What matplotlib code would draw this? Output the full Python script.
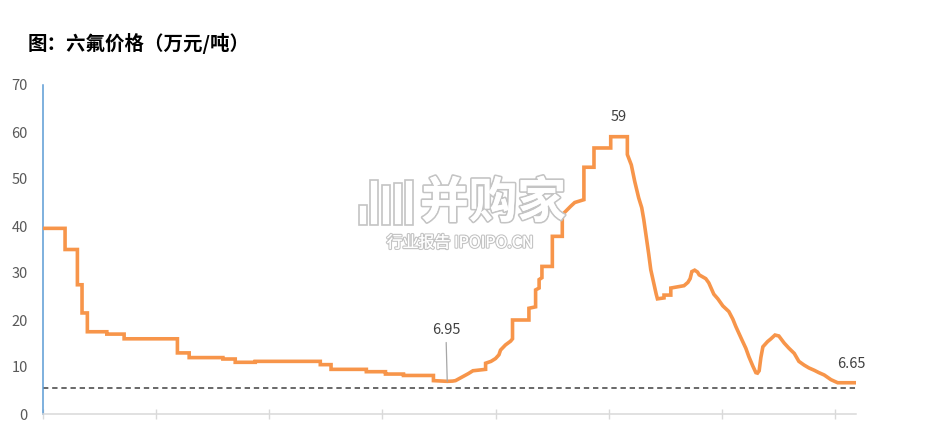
import matplotlib
matplotlib.use("Agg")
import matplotlib.pyplot as plt
import matplotlib.patheffects as pe
from matplotlib.patches import Rectangle
import numpy as np

plt.rcParams['font.family'] = ['Noto Sans CJK SC', 'DejaVu Sans']

# ---------------- data (decimal years, price in 万元/吨) ----------------
# a repeated year marks a price jump on that date
years = [2017.000, 2017.195, 2017.195, 2017.304, 2017.304, 2017.345, 2017.345,
         2017.392, 2017.392, 2017.564, 2017.564, 2017.717, 2017.717, 2018.188,
         2018.188, 2018.292, 2018.292, 2018.590, 2018.590, 2018.699, 2018.699,
         2018.876, 2018.876, 2019.451, 2019.451, 2019.546, 2019.546, 2019.858,
         2019.858, 2020.027, 2020.027, 2020.186, 2020.186, 2020.451, 2020.451,
         2020.540, 2020.573, 2020.620, 2020.646, 2020.700, 2020.760, 2020.800,
         2020.870, 2020.912, 2020.912, 2020.960, 2021.000, 2021.030, 2021.044,
         2021.088, 2021.133, 2021.150, 2021.150, 2021.295, 2021.295, 2021.354,
         2021.354, 2021.385, 2021.385, 2021.410, 2021.410, 2021.502, 2021.502,
         2021.590, 2021.590, 2021.619, 2021.664, 2021.700, 2021.781, 2021.781,
         2021.870, 2021.870, 2022.018, 2022.018, 2022.165, 2022.165, 2022.200,
         2022.230, 2022.265, 2022.292, 2022.310, 2022.336, 2022.354, 2022.372,
         2022.398, 2022.420, 2022.431, 2022.489, 2022.489, 2022.549, 2022.549,
         2022.666, 2022.700, 2022.720, 2022.735, 2022.760, 2022.785, 2022.800,
         2022.858, 2022.885, 2022.929, 2022.965, 2023.009, 2023.062, 2023.097,
         2023.124, 2023.150, 2023.177, 2023.212, 2023.239, 2023.274, 2023.301,
         2023.315, 2023.330, 2023.345, 2023.363, 2023.404, 2023.434, 2023.470,
         2023.504, 2023.551, 2023.593, 2023.640, 2023.681, 2023.728, 2023.770,
         2023.817, 2023.858, 2023.905, 2023.965, 2024.024, 2024.186]
prices = [39.5, 39.5, 35.0, 35.0, 27.5, 27.5, 21.5,
          21.5, 17.5, 17.5, 17.0, 17.0, 16.0, 16.0,
          13.0, 13.0, 12.0, 12.0, 11.7, 11.7, 11.0,
          11.0, 11.2, 11.2, 10.5, 10.5, 9.5, 9.5,
          9.0, 9.0, 8.5, 8.5, 8.2, 8.2, 7.1,
          7.0, 6.95, 7.0, 7.1, 7.8, 8.6, 9.2,
          9.4, 9.5, 10.8, 11.2, 11.8, 12.6, 13.6,
          14.7, 15.5, 16.0, 20.0, 20.0, 22.5, 22.8,
          26.4, 26.8, 28.6, 29.0, 31.4, 31.4, 37.8,
          37.8, 42.4, 43.1, 44.2, 45.0, 45.6, 52.5,
          52.5, 56.6, 56.6, 59.0, 59.0, 55.2, 53.0,
          49.5, 46.0, 43.9, 41.4, 37.1, 34.0, 30.7,
          27.9, 25.5, 24.5, 24.7, 25.3, 25.3, 26.8,
          27.3, 28.0, 28.8, 30.3, 30.6, 30.2, 29.6,
          28.8, 27.9, 25.5, 24.5, 23.0, 21.8, 20.2,
          18.6, 17.2, 15.8, 14.0, 12.2, 10.2, 8.8,
          8.7, 9.2, 12.0, 14.3, 15.4, 16.0, 16.8,
          16.6, 15.1, 14.0, 12.9, 11.2, 10.4, 9.8,
          9.3, 8.8, 8.3, 7.3, 6.65, 6.65]
ref_level = 5.6
year_ticks = [2017, 2018, 2019, 2020, 2021, 2022, 2023, 2024]
y_ticks = [0, 10, 20, 30, 40, 50, 60, 70]
title = "图：六氟价格（万元/吨）"

years = np.array(years)
prices = np.array(prices)

# ---------------- figure ----------------
fig = plt.figure(figsize=(9.25, 4.25), dpi=100)
ax = fig.add_axes([43/925, 1-414/425, (856-43)/925, (414-85)/425])

ax.plot(years, prices, color='#F7954A', lw=2.6, solid_joinstyle='miter', zorder=3)
ax.axhline(ref_level, color='#404040', lw=1.1, ls=(0, (3.5, 2.5)), zorder=2)

ax.set_xlim(years[0], years[-1])
ax.set_ylim(0, 70)
ax.set_xticks(year_ticks)
ax.set_xticklabels([])
ax.set_yticks(y_ticks)
ax.tick_params(axis='x', direction='inout', length=7, color='#d9d9d9', width=1)
ax.tick_params(axis='y', length=0, pad=11, labelsize=10.5, labelcolor='#595959')

for s in ['top', 'right']:
    ax.spines[s].set_visible(False)
ax.spines['left'].set_color('#5B9BD5')
ax.spines['left'].set_linewidth(1.1)
ax.spines['bottom'].set_color('#d9d9d9')
ax.spines['bottom'].set_linewidth(1.1)

# annotations
imax = int(np.argmax(prices))
ax.annotate(f"{prices[imax]:g}", xy=((years[imax] + years[imax+1]) / 2, prices[imax]),
            xytext=(0, 14.5), textcoords='offset points', ha='center', va='center',
            fontsize=10.5, color='#404040')
imin = int(np.argmin(prices[:60]))
ax.annotate(f"{prices[imin]:g}", xy=(years[imin], prices[imin]),
            xytext=(-1, 37), textcoords='offset points', ha='center', va='center',
            fontsize=10.5, color='#404040',
            arrowprops=dict(arrowstyle='-', color='#a6a6a6', lw=0.9, shrinkA=2, shrinkB=0))
ax.annotate(f"{prices[-1]:g}", xy=(years[-1], prices[-1]),
            xytext=(-3.6, 13.7), textcoords='offset points', ha='center', va='center',
            fontsize=10.5, color='#404040')

# title
fig.text(28/925, 1-43/425, title, fontsize=14, fontweight='bold', color='black',
         ha='left', va='center')

# watermark
effects = [pe.withStroke(linewidth=2.5, foreground='#c4c4c4'), pe.Normal()]
fig.text(493/925, 1-203/425, "并购家", fontsize=35, fontweight='bold', color='white',
         ha='center', va='center', path_effects=effects, zorder=5)
fig.text(460/925, 1-243/425, "行业报告 IPOIPO.CN", fontsize=11.5, color='white',
         ha='center', va='center',
         path_effects=[pe.withStroke(linewidth=1.8, foreground='#c4c4c4'), pe.Normal()],
         zorder=5)
for bx, bh in [(359, 20), (370, 45), (382, 40), (394, 42), (405, 45)]:
    fig.add_artist(Rectangle((bx/925, 1-225/425), 8/925, bh/425,
                             transform=fig.transFigure, facecolor='white',
                             edgecolor='#c4c4c4', lw=1.2, zorder=5))

fig.savefig("out.png", dpi=100)
